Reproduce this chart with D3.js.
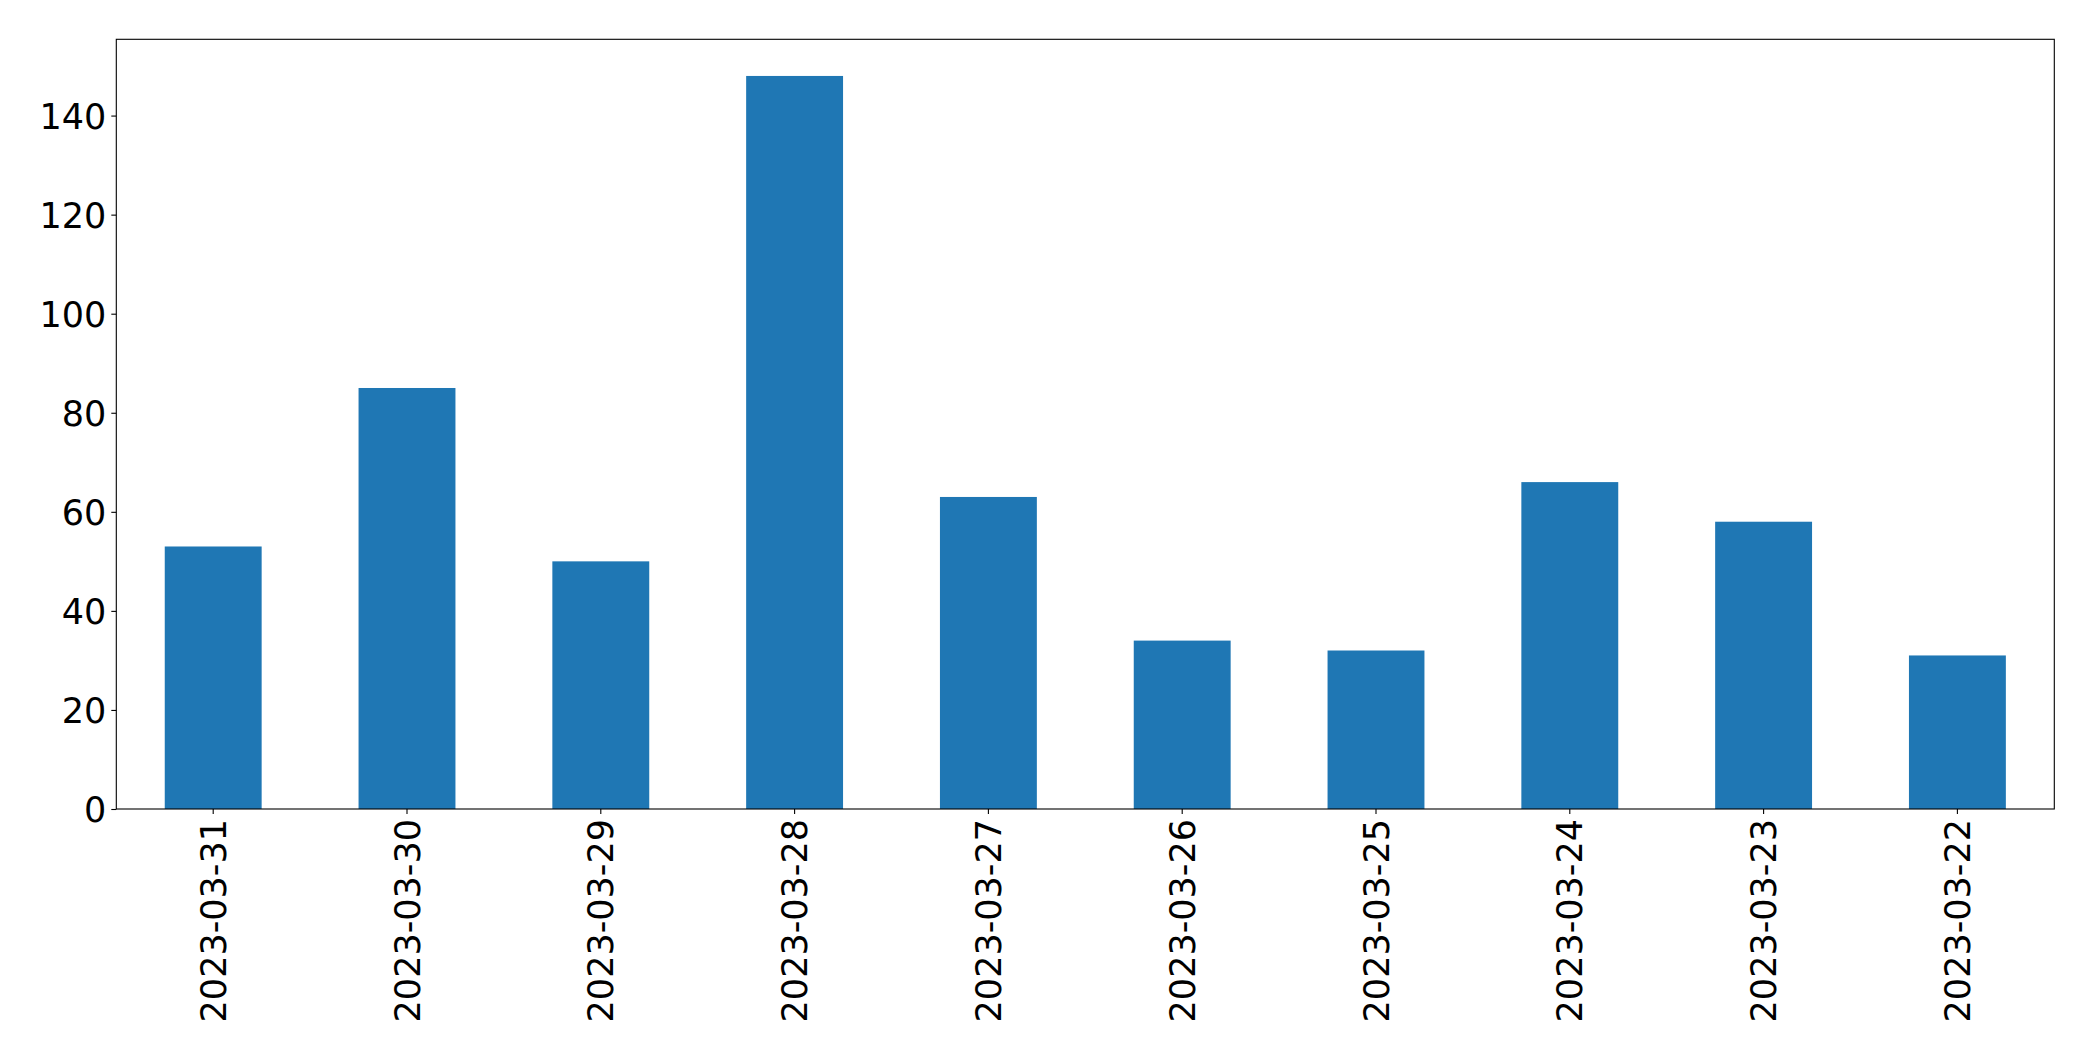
<!DOCTYPE html>
<html>
<head>
<meta charset="utf-8">
<script src="https://cdn.jsdelivr.net/npm/d3@7"></script>
<style>
  html, body { margin: 0; padding: 0; background: #fff; }
  svg { display: block; }
</style>
</head>
<body>
<svg id="chart" width="2093" height="1061"></svg>
<script>
const categories = ["2023-03-31","2023-03-30","2023-03-29","2023-03-28","2023-03-27","2023-03-26","2023-03-25","2023-03-24","2023-03-23","2023-03-22"];
const values = [53, 85, 50, 148, 63, 34, 32, 66, 58, 31];
const yTicks = [0, 20, 40, 60, 80, 100, 120, 140];

const W = 2093, H = 1061;
const margin = { left: 116.3, right: W - 2054.3, top: 39.3, bottom: H - 809 };
const svg = d3.select("#chart");
const innerW = W - margin.left - margin.right;
const innerH = H - margin.top - margin.bottom;
const g = svg.append("g").attr("transform", `translate(${margin.left},${margin.top})`);

const x = d3.scaleBand().domain(categories).range([0, innerW]).paddingInner(0.5).paddingOuter(0.25);
const y = d3.scaleLinear().domain([0, d3.max(values) * 1.05]).range([innerH, 0]);

g.selectAll("rect.bar").data(values).enter().append("rect")
  .attr("class", "bar")
  .attr("x", (d, i) => x(categories[i]))
  .attr("width", x.bandwidth())
  .attr("y", d => y(d))
  .attr("height", d => y(0) - y(d))
  .attr("fill", "#1f77b4");

const fontFamily = "'DejaVu Sans', sans-serif";
const fontSize = "35px";

const yAxis = g.append("g").call(d3.axisLeft(y).tickValues(yTicks).tickSize(5).tickPadding(5).tickFormat(d3.format("d")));
yAxis.select(".domain").remove();
yAxis.selectAll("line").attr("stroke", "#000").attr("stroke-width", 1.1);
yAxis.selectAll("text").attr("font-family", fontFamily).attr("font-size", fontSize).attr("fill", "#000").attr("dy", "0.36em");

const xAxis = g.append("g").attr("transform", `translate(0,${innerH})`)
  .call(d3.axisBottom(x).tickSize(5).tickPadding(0));
xAxis.select(".domain").remove();
xAxis.selectAll("line").attr("stroke", "#000").attr("stroke-width", 1.1);
xAxis.selectAll("text")
  .attr("font-family", fontFamily).attr("font-size", fontSize).attr("fill", "#000")
  .attr("text-anchor", "end")
  .attr("transform", "translate(0,10) rotate(-90)")
  .attr("x", 0).attr("y", 0).attr("dy", "0.36em");

// frame
g.append("rect").attr("x", 0).attr("y", 0).attr("width", innerW).attr("height", innerH)
  .attr("fill", "none").attr("stroke", "#000").attr("stroke-width", 1.1);
</script>
</body>
</html>
